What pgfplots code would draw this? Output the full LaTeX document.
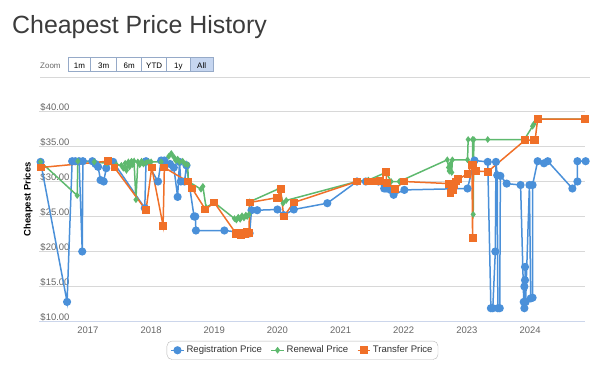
\documentclass[border=0pt]{standalone}
\usepackage{pgfplots}
\pgfplotsset{compat=1.18}
\usepackage{fontspec}
\setmainfont{Liberation Sans}
\definecolor{regc}{RGB}{74,144,217}
\definecolor{renc}{RGB}{94,185,110}
\definecolor{trac}{RGB}{240,112,40}
\definecolor{titlec}{RGB}{60,60,60}
\definecolor{tickc}{RGB}{102,102,102}
\definecolor{gridc}{RGB}{216,216,216}
\definecolor{axisc}{RGB}{204,214,235}
\definecolor{btnb}{RGB}{150,170,200}
\definecolor{btnsel}{RGB}{198,214,240}
\definecolor{legc}{RGB}{51,51,51}
\begin{document}
\begin{tikzpicture}
\useasboundingbox (0bp,0bp) rectangle (600bp,-371bp);
\node[anchor=base west, inner sep=0pt, text=titlec, font=\fontsize{25}{30}\selectfont] at (12bp,-33.5bp) {Cheapest Price History};
\node[anchor=base west, inner sep=0pt, text=tickc, font=\fontsize{8}{10}\selectfont] at (40bp,-68bp) {Zoom};
\fill[btnsel] (190bp,-57.5bp) rectangle (213.3bp,-71.5bp);
\draw[btnb, line width=0.6bp] (68.3bp,-57.5bp) rectangle (213.3bp,-71.5bp);
\foreach \xx in {90.7,116.7,141.7,166.7,190}{\draw[btnb, line width=0.6bp] (\xx bp,-57.5bp) -- (\xx bp,-71.5bp);}
\foreach \xa/\xb/\lab in {68.3/90.7/1m,90.7/116.7/3m,116.7/141.7/6m,141.7/166.7/YTD,166.7/190/1y,190/213.3/All}{
  \node[anchor=base, inner sep=0pt, font=\fontsize{8}{10}\selectfont] at ({(\xa+\xb)/2*1bp},-68bp) {\lab};}
\draw[gridc, line width=0.8bp] (40bp,-77bp) -- (590bp,-77bp);
\begin{axis}[
  at={(39.3bp,-321.5bp)}, anchor=south west,
  scale only axis, width=545.7bp, height=210bp,
  xmin=2016.23, xmax=2024.87, ymin=10, ymax=40,
  clip=false,
  /pgf/number format/assume math mode=true,
  axis x line*=bottom, axis y line*=left,
  y axis line style={draw=none},
  x axis line style={draw=axisc, line width=1bp, -},
  xtick={2017,2018,2019,2020,2021,2022,2023,2024},
  xtick style={draw=none},
  xticklabel style={/pgf/number format/1000 sep={}, text=tickc, yshift=-1.5bp, font=\fontsize{9.5}{11}\selectfont},
  ytick={10,15,20,25,30,35,40},
  ytick style={draw=none},
  ymajorgrids, grid style={gridc, line width=1bp},
  yticklabel={\$\pgfmathprintnumber[fixed,fixed zerofill,precision=2]{\tick}},
  yticklabel style={anchor=base west, inner sep=1bp, yshift=1.5bp, text=tickc, font=\fontsize{9.5}{11}\selectfont},
  ylabel={Cheapest Prices},
  ylabel style={at={(axis description cs:-0.0202,0.582)}, anchor=center, font=\bfseries\fontsize{9.5}{11}\selectfont},
  legend columns=3,
  legend style={at={(axis description cs:0.4823,-0.137)}, anchor=center, draw=gray!55, rounded corners=5bp,
    font=\fontsize{9.6}{11}\selectfont, text=legc, inner xsep=3.5bp, inner ysep=3bp,
    /tikz/every even column/.append style={column sep=6.5bp}},
  legend image code/.code={\draw[mark repeat=2,mark phase=2] plot coordinates {(0bp,0bp) (6.3bp,0bp) (12.6bp,0bp)};},
]
\addplot[regc, line width=1.5bp, mark=*, mark size=3.3bp, mark options={solid, fill=regc, draw=regc}] coordinates {
(2016.25,32.8) (2016.67,12.8) (2016.75,32.9) (2016.80,32.9) (2016.86,32.9) (2016.91,20.0) (2016.92,32.9)
(2017.07,32.9) (2017.12,32.5) (2017.16,32.1) (2017.20,30.2) (2017.25,30.0) (2017.29,31.9) (2017.32,32.8)
(2017.40,32.8) (2017.90,26.2) (2017.92,32.9) (2018.11,30.0) (2018.16,33.0) (2018.21,33.0) (2018.30,32.5)
(2018.36,32.0) (2018.42,27.8) (2018.45,32.8) (2018.47,30.0) (2018.53,30.0) (2018.56,32.3) (2018.68,25.0)
(2018.70,25.0) (2018.71,23.0) (2019.16,23.0) (2019.56,22.6) (2019.59,25.9) (2019.68,25.9) (2020.00,26.0)
(2020.10,25.2) (2020.26,26.0) (2020.79,26.9) (2021.26,30.0) (2021.40,30.0) (2021.60,30.0) (2021.69,29.0)
(2021.72,29.0) (2021.79,28.8) (2021.84,28.1) (2022.01,28.8) (2023.01,29.0) (2023.12,33.0) (2023.33,32.8)
(2023.38,11.9) (2023.41,11.9) (2023.45,20.0) (2023.46,32.8) (2023.48,30.9) (2023.49,11.9) (2023.52,11.9)
(2023.53,30.8) (2023.63,29.7) (2023.85,29.5) (2023.90,12.8) (2023.91,11.9) (2023.91,15.0) (2023.92,15.9)
(2023.92,17.8) (2023.93,12.8) (2023.99,29.5) (2024.01,13.3) (2024.04,13.4) (2024.04,29.5) (2024.12,32.9)
(2024.22,32.6) (2024.28,32.9) (2024.67,29.0) (2024.75,30.0) (2024.75,32.9) (2024.88,32.9)
};
\addlegendentry{Registration Price}
\addplot[renc, line width=1.5bp, mark=diamond*, mark size=2.2bp, mark options={solid, fill=renc, draw=renc}] coordinates {
(2016.25,32.8) (2016.83,28.0) (2016.84,32.9) (2017.10,32.8) (2017.30,32.6) (2017.45,32.4) (2017.53,32.3)
(2017.56,31.9) (2017.59,32.6) (2017.61,31.6) (2017.64,32.8) (2017.66,32.1) (2017.69,32.9) (2017.71,32.4)
(2017.73,32.9) (2017.76,27.4) (2017.79,32.8) (2017.82,32.4) (2017.85,32.9) (2017.88,32.5) (2017.92,32.7)
(2017.96,32.8) (2018.00,32.8) (2018.16,32.8) (2018.28,33.6) (2018.32,34.0) (2018.36,33.5) (2018.39,33.0)
(2018.42,33.2) (2018.45,32.8) (2018.50,32.9) (2018.54,32.5) (2018.58,32.4) (2018.59,30.0) (2018.79,28.9)
(2018.82,29.3) (2018.87,26.3) (2019.00,27.0) (2019.32,24.7) (2019.35,24.5) (2019.38,24.9) (2019.41,24.6)
(2019.44,25.1) (2019.47,24.8) (2019.50,25.2) (2019.52,25.0) (2019.55,25.3) (2019.56,27.1) (2020.03,29.0)
(2020.09,26.9) (2020.14,27.3) (2021.26,30.0) (2021.44,30.2) (2021.72,31.3) (2021.80,30.0) (2021.93,30.0)
(2022.69,33.1) (2022.71,32.0) (2022.72,31.5) (2022.74,32.5) (2022.76,31.3) (2022.77,33.1) (2023.01,33.1)
(2023.02,36.0) (2023.09,36.0) (2023.10,25.3) (2023.11,36.0) (2023.33,36.0) (2023.91,36.0) (2024.04,37.9)
(2024.06,38.2) (2024.12,38.9) (2024.88,38.9)
};
\addlegendentry{Renewal Price}
\addplot[trac, line width=1.5bp, mark=square*, mark size=3.2bp, mark options={solid, fill=trac, draw=trac}] coordinates {
(2016.25,32.0) (2017.32,32.9) (2017.42,32.0) (2017.92,25.9) (2018.01,32.0) (2018.19,23.7) (2018.21,32.0)
(2018.58,30.0) (2018.65,29.0) (2018.86,26.0) (2019.00,27.0) (2019.35,22.5) (2019.38,22.6) (2019.42,22.4)
(2019.45,22.7) (2019.48,22.5) (2019.52,22.8) (2019.55,22.6) (2019.56,27.0) (2020.00,27.7) (2020.05,28.9)
(2020.10,25.0) (2020.26,27.0) (2021.26,30.0) (2021.44,30.0) (2021.51,30.0) (2021.58,30.0) (2021.63,30.1)
(2021.72,31.4) (2021.73,29.8) (2021.86,28.9) (2022.00,30.0) (2022.72,29.7) (2022.74,28.4) (2022.76,29.2)
(2022.78,28.8) (2022.80,29.5) (2022.83,30.0) (2022.86,30.3) (2023.01,31.1) (2023.08,32.4) (2023.09,21.9)
(2023.10,32.4) (2023.14,31.5) (2023.33,31.4) (2023.92,35.9) (2024.06,35.9) (2024.08,35.9) (2024.12,38.9)
(2024.87,38.9)
};
\addlegendentry{Transfer Price}
\end{axis}
\end{tikzpicture}
\end{document}
